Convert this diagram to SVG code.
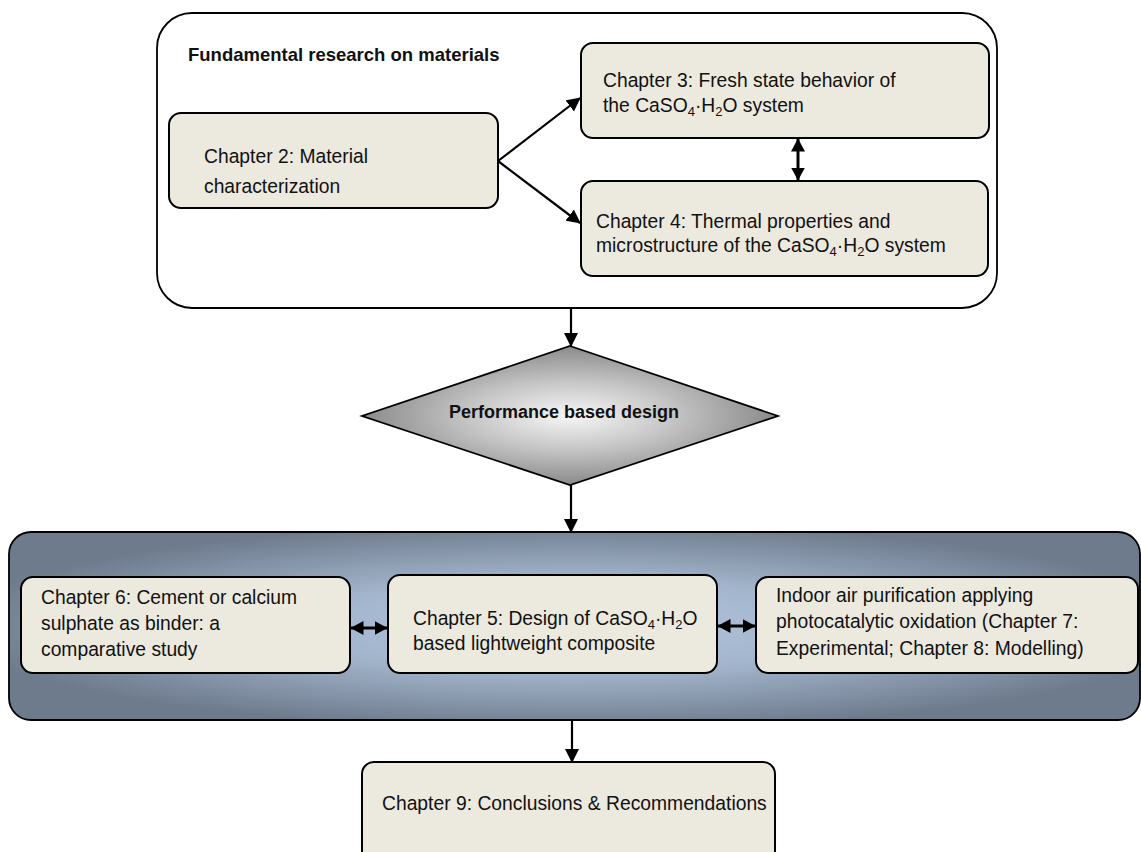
<svg xmlns="http://www.w3.org/2000/svg" width="1141" height="852" viewBox="0 0 1141 852">
<style>
.box{fill:#ece9df;stroke:#000;stroke-width:2}
.t{font-family:"Liberation Sans",Arial,sans-serif;font-size:19.3px;fill:#111}
.b{font-family:"Liberation Sans",Arial,sans-serif;font-weight:bold;fill:#111}
.s{font-size:13px}
.c{stroke:#000;stroke-width:2.2;fill:none}
.d{stroke:#000;stroke-width:3;fill:none}
</style>
<defs>
<marker id="ah" viewBox="0 0 14 14" refX="13" refY="7" markerWidth="14" markerHeight="14" markerUnits="userSpaceOnUse" orient="auto-start-reverse">
<path d="M0,0 L14,7 L0,14 Z" fill="#000"/>
</marker>
<marker id="ahs" viewBox="0 0 13 14" refX="12.5" refY="7" markerWidth="13" markerHeight="14" markerUnits="userSpaceOnUse" orient="auto-start-reverse">
<path d="M0,0 L13,7 L0,14 Z" fill="#000"/>
</marker>
<radialGradient id="gd" cx="50%" cy="50%" r="50%">
<stop offset="0" stop-color="#f7f7f7"/>
<stop offset="0.5" stop-color="#c4c4c4"/>
<stop offset="1" stop-color="#8a8a8a"/>
</radialGradient>
<radialGradient id="gp" cx="50%" cy="50%" r="55%">
<stop offset="0" stop-color="#b3c5dc"/>
<stop offset="0.45" stop-color="#a3b5cc"/>
<stop offset="1" stop-color="#6e7b8d"/>
</radialGradient>
</defs>

<g id="research-group">
<rect x="157" y="13" width="840" height="295" rx="35" fill="#fff" stroke="#000" stroke-width="1.8"/>
<text class="b" x="188" y="61" font-size="18.5">Fundamental research on materials</text>
</g>

<g id="ch2">
<rect class="box" x="169" y="113" width="329" height="95" rx="12"/>
<text class="t" x="204" y="163">Chapter 2: Material</text>
<text class="t" x="204" y="193">characterization</text>
</g>

<g id="ch3">
<rect class="box" x="581" y="43" width="408" height="95" rx="12"/>
<text class="t" x="603" y="87">Chapter 3: Fresh state behavior of</text>
<text class="t" x="603" y="112">the CaSO<tspan class="s" dy="4">4</tspan><tspan dy="-4">·H</tspan><tspan class="s" dy="4">2</tspan><tspan dy="-4">O system</tspan></text>
</g>

<g id="ch4">
<rect class="box" x="581" y="181" width="407" height="95" rx="12"/>
<text class="t" x="596" y="228">Chapter 4: Thermal properties and</text>
<text class="t" x="596" y="252">microstructure of the CaSO<tspan class="s" dy="4">4</tspan><tspan dy="-4">·H</tspan><tspan class="s" dy="4">2</tspan><tspan dy="-4">O system</tspan></text>
</g>

<g id="performance">
<polygon points="570,346 778,416 570,485 362,416" fill="url(#gd)" stroke="#000" stroke-width="1.8"/>
<text class="b" x="449" y="418" font-size="18">Performance based design</text>
</g>

<g id="design-panel">
<rect x="9" y="532" width="1131" height="188" rx="22" fill="url(#gp)" stroke="#000" stroke-width="1.8"/>
</g>

<g id="ch6">
<rect class="box" x="21" y="577" width="329" height="96" rx="12"/>
<text class="t" x="41" y="604">Chapter 6: Cement or calcium</text>
<text class="t" x="41" y="630">sulphate as binder: a</text>
<text class="t" x="41" y="656">comparative study</text>
</g>

<g id="ch5">
<rect class="box" x="388" y="575" width="329" height="98" rx="12"/>
<text class="t" x="413" y="625">Chapter 5: Design of CaSO<tspan class="s" dy="4">4</tspan><tspan dy="-4">·H</tspan><tspan class="s" dy="4">2</tspan><tspan dy="-4">O</tspan></text>
<text class="t" x="413" y="650">based lightweight composite</text>
</g>

<g id="ch7-8">
<rect class="box" x="756" y="577" width="382" height="96" rx="12"/>
<text class="t" x="776" y="602">Indoor air purification applying</text>
<text class="t" x="776" y="628">photocatalytic oxidation (Chapter 7:</text>
<text class="t" x="776" y="655">Experimental; Chapter 8: Modelling)</text>
</g>

<g id="ch9">
<rect class="box" x="362" y="762" width="413" height="110" rx="12"/>
<text class="t" x="382" y="810">Chapter 9: Conclusions &amp; Recommendations</text>
</g>

<g id="connectors">
<line class="c" x1="498" y1="161" x2="580" y2="98" marker-end="url(#ah)"/>
<line class="c" x1="498" y1="161" x2="580" y2="223" marker-end="url(#ah)"/>
<line class="d" x1="798" y1="139" x2="798" y2="180" marker-start="url(#ahs)" marker-end="url(#ahs)"/>
<line class="c" x1="571" y1="308" x2="571" y2="346" marker-end="url(#ah)"/>
<line class="c" x1="571" y1="485" x2="571" y2="532" marker-end="url(#ah)"/>
<line class="d" x1="351" y1="628" x2="387" y2="628" marker-start="url(#ahs)" marker-end="url(#ahs)"/>
<line class="d" x1="718" y1="626" x2="755" y2="626" marker-start="url(#ahs)" marker-end="url(#ahs)"/>
<line class="c" x1="572" y1="720" x2="572" y2="762" marker-end="url(#ah)"/>
</g>
</svg>
